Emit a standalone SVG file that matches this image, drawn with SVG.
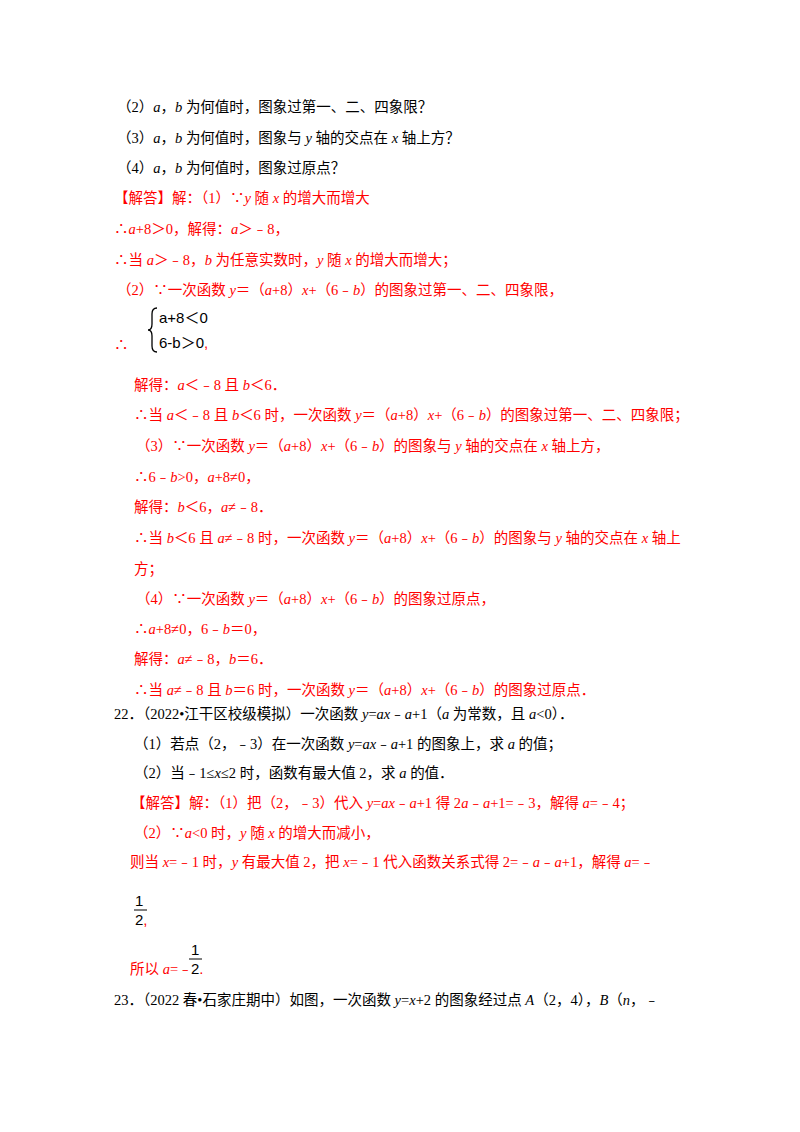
<svg xmlns="http://www.w3.org/2000/svg" width="800" height="1132" viewBox="0 0 800 1132">
<style>
text{font-family:"Liberation Serif","Noto Sans CJK SC",serif;font-size:14.5px;fill:#000}
.r{fill:#ff0000}
.i{font-style:italic}
.s{font-family:"Liberation Sans","Noto Sans CJK SC",sans-serif;font-size:15px}
</style>
<rect width="800" height="1132" fill="#fff"/>
<text x="117" y="112">（2）<tspan class="i">a</tspan>，<tspan class="i">b</tspan> 为何值时，图象过第一、二、四象限？</text>
<text x="117" y="143">（3）<tspan class="i">a</tspan>，<tspan class="i">b</tspan> 为何值时，图象与 <tspan class="i">y</tspan> 轴的交点在 <tspan class="i">x</tspan> 轴上方？</text>
<text x="117" y="173">（4）<tspan class="i">a</tspan>，<tspan class="i">b</tspan> 为何值时，图象过原点？</text>
<g class="r">
<text class="r" x="114" y="203">【解答】解：（1）∵<tspan class="i">y</tspan> 随 <tspan class="i">x</tspan> 的增大而增大</text>
<text class="r" x="114" y="234">∴<tspan class="i">a</tspan>+8＞0，解得：<tspan class="i">a</tspan>＞﹣8，</text>
<text class="r" x="114" y="265">∴当 <tspan class="i">a</tspan>＞﹣8，<tspan class="i">b</tspan> 为任意实数时，<tspan class="i">y</tspan> 随 <tspan class="i">x</tspan> 的增大而增大；</text>
<text class="r" x="117" y="295">（2）∵一次函数 <tspan class="i">y</tspan>＝（<tspan class="i">a</tspan>+8）<tspan class="i">x</tspan>+（6﹣<tspan class="i">b</tspan>）的图象过第一、二、四象限，</text>
<text class="r" x="114" y="350">∴</text>
<path d="M157,308 q-5,0 -5,6 v10 q0,6 -4,6 q4,0 4,6 v10 q0,6 5,6" fill="none" stroke="#000" stroke-width="1.3"/>
<text class="s" x="159" y="323">a+8＜0</text>
<text class="s" x="159" y="348">6-b＞0<tspan class="r">,</tspan></text>
<text class="r" x="134" y="390">解得：<tspan class="i">a</tspan>＜﹣8 且 <tspan class="i">b</tspan>＜6．</text>
<text class="r" x="134" y="420">∴当 <tspan class="i">a</tspan>＜﹣8 且 <tspan class="i">b</tspan>＜6 时，一次函数 <tspan class="i">y</tspan>＝（<tspan class="i">a</tspan>+8）<tspan class="i">x</tspan>+（6﹣<tspan class="i">b</tspan>）的图象过第一、二、四象限；</text>
<text class="r" x="136" y="451">（3）∵一次函数 <tspan class="i">y</tspan>＝（<tspan class="i">a</tspan>+8）<tspan class="i">x</tspan>+（6﹣<tspan class="i">b</tspan>）的图象与 <tspan class="i">y</tspan> 轴的交点在 <tspan class="i">x</tspan> 轴上方，</text>
<text class="r" x="134" y="482">∴6﹣<tspan class="i">b</tspan>&gt;0，<tspan class="i">a</tspan>+8≠0，</text>
<text class="r" x="134" y="512">解得：<tspan class="i">b</tspan>＜6，<tspan class="i">a</tspan>≠﹣8．</text>
<text class="r" x="134" y="543">∴当 <tspan class="i">b</tspan>＜6 且 <tspan class="i">a</tspan>≠﹣8 时，一次函数 <tspan class="i">y</tspan>＝（<tspan class="i">a</tspan>+8）<tspan class="i">x</tspan>+（6﹣<tspan class="i">b</tspan>）的图象与 <tspan class="i">y</tspan> 轴的交点在 <tspan class="i">x</tspan> 轴上</text>
<text class="r" x="134" y="574">方；</text>
<text class="r" x="136" y="604">（4）∵一次函数 <tspan class="i">y</tspan>＝（<tspan class="i">a</tspan>+8）<tspan class="i">x</tspan>+（6﹣<tspan class="i">b</tspan>）的图象过原点，</text>
<text class="r" x="134" y="634">∴<tspan class="i">a</tspan>+8≠0，6﹣<tspan class="i">b</tspan>＝0，</text>
<text class="r" x="134" y="664">解得：<tspan class="i">a</tspan>≠﹣8，<tspan class="i">b</tspan>＝6．</text>
<text class="r" x="134" y="695">∴当 <tspan class="i">a</tspan>≠﹣8 且 <tspan class="i">b</tspan>＝6 时，一次函数 <tspan class="i">y</tspan>＝（<tspan class="i">a</tspan>+8）<tspan class="i">x</tspan>+（6﹣<tspan class="i">b</tspan>）的图象过原点．</text>
</g>
<text x="114" y="719">22．（2022•江干区校级模拟）一次函数 <tspan class="i">y</tspan>=<tspan class="i">ax</tspan>﹣<tspan class="i">a</tspan>+1（<tspan class="i">a</tspan> 为常数，且 <tspan class="i">a</tspan>&lt;0）．</text>
<text x="134" y="749">（1）若点（2，﹣3）在一次函数 <tspan class="i">y</tspan>=<tspan class="i">ax</tspan>﹣<tspan class="i">a</tspan>+1 的图象上，求 <tspan class="i">a</tspan> 的值；</text>
<text x="134" y="778">（2）当﹣1≤<tspan class="i">x</tspan>≤2 时，函数有最大值 2，求 <tspan class="i">a</tspan> 的值．</text>
<text class="r" x="131" y="808">【解答】解：（1）把（2，﹣3）代入 <tspan class="i">y</tspan>=<tspan class="i">ax</tspan>﹣<tspan class="i">a</tspan>+1 得 2<tspan class="i">a</tspan>﹣<tspan class="i">a</tspan>+1=﹣3，解得 <tspan class="i">a</tspan>=﹣4；</text>
<text class="r" x="134" y="838">（2）∵<tspan class="i">a</tspan>&lt;0 时，<tspan class="i">y</tspan> 随 <tspan class="i">x</tspan> 的增大而减小，</text>
<text class="r" x="130" y="867">则当 <tspan class="i">x</tspan>=﹣1 时，<tspan class="i">y</tspan> 有最大值 2，把 <tspan class="i">x</tspan>=﹣1 代入函数关系式得 2=﹣<tspan class="i">a</tspan>﹣<tspan class="i">a</tspan>+1，解得 <tspan class="i">a</tspan>=﹣</text>
<text class="s" x="135" y="906">1</text>
<line x1="134" y1="910" x2="147" y2="910" stroke="#000" stroke-width="1"/>
<text class="s" x="135" y="925">2<tspan class="r">,</tspan></text>
<text class="r" x="130" y="974">所以 <tspan class="i">a</tspan>=﹣</text>
<text class="s" x="191" y="955">1</text>
<line x1="189" y1="959" x2="202" y2="959" stroke="#000" stroke-width="1"/>
<text class="s" x="191" y="974">2<tspan class="r">.</tspan></text>
<text x="114" y="1005">23．（2022 春•石家庄期中）如图，一次函数 <tspan class="i">y</tspan>=<tspan class="i">x</tspan>+2 的图象经过点 <tspan class="i">A</tspan>（2，4），<tspan class="i">B</tspan>（<tspan class="i">n</tspan>，﹣</text>
</svg>
